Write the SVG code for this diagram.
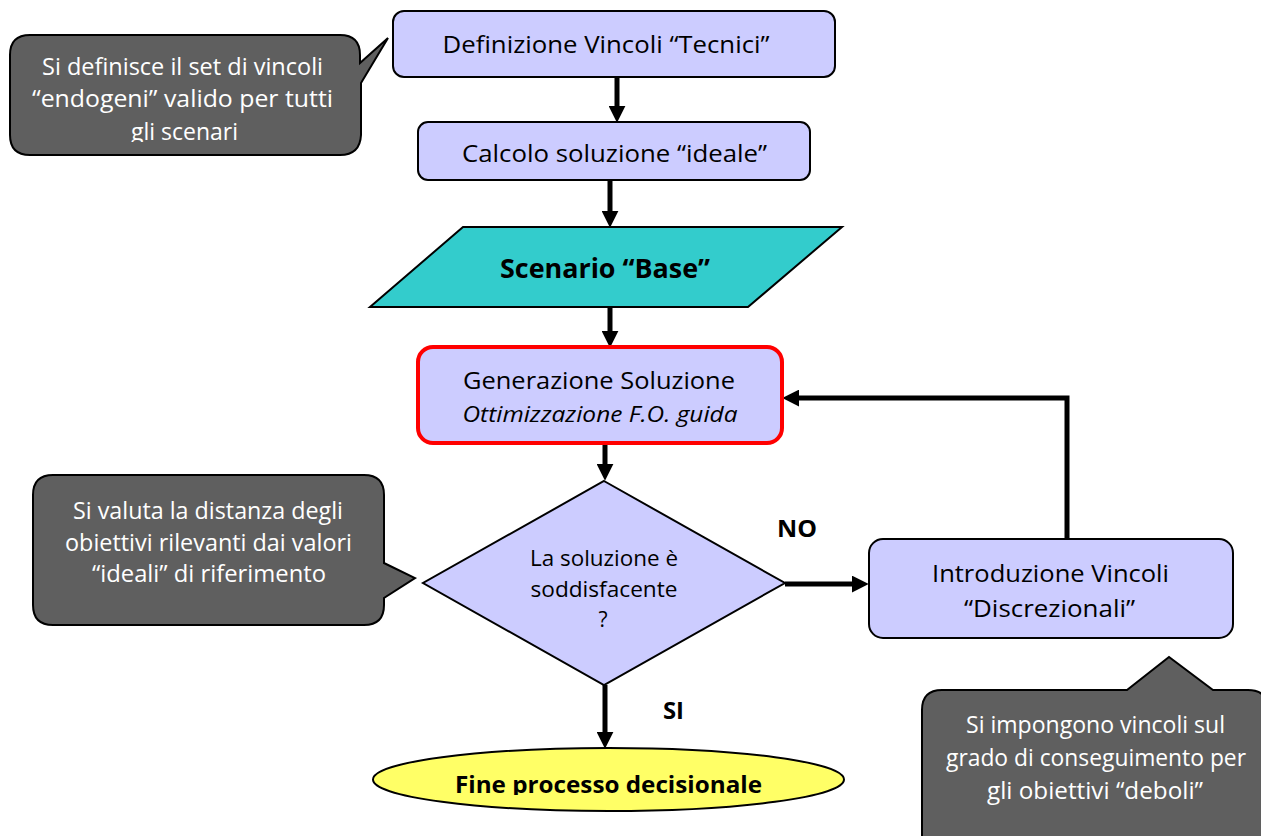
<svg xmlns="http://www.w3.org/2000/svg" width="1261" height="836" viewBox="0 0 1261 836">
<style>
.box{fill:#CCCCFF;stroke:#000;stroke-width:2}
.call{fill:#5F5F5F;stroke:#000;stroke-width:2}
.t{font-family:"Open Sans","Liberation Sans",sans-serif;font-size:24px;fill:#000;text-anchor:middle}
.w{fill:#fff}
.b{font-weight:bold}
.i{font-style:italic;font-size:21px}
.s{font-size:21px}
.big{font-size:26px}
.conn{fill:none;stroke:#000;stroke-width:5;marker-end:url(#ah)}
</style>
<defs>
<marker id="ah" viewBox="0 0 16 16" markerWidth="17" markerHeight="17" markerUnits="userSpaceOnUse" refX="4" refY="8" orient="auto">
<path d="M0,0 L16,8 L0,16 Z" fill="#000"/>
</marker>
<clipPath id="clip1"><rect x="0" y="0" width="400" height="142"/></clipPath>
<clipPath id="clip2"><rect x="300" y="700" width="600" height="95"/></clipPath>
</defs>
<rect width="1261" height="836" fill="#fff"/>

<g id="connectors">
<path class="conn" d="M617,77 V110"/>
<path class="conn" d="M610,180 V215"/>
<path class="conn" d="M610,307 V335"/>
<path class="conn" d="M605,444 V468"/>
<path class="conn" d="M605,685 V736"/>
<path class="conn" d="M785,584 H856"/>
<path class="conn" d="M1067,539 V398 H795"/>
</g>

<g id="callout1">
<path class="call" d="M30,35 H340 Q360,35 360,55 V63 L388,38 L361,83 V135 Q360,155 340,155 H30 Q10,155 10,135 V55 Q10,35 30,35 Z"/>
<text class="t w" x="182.5" y="75" textLength="281" lengthAdjust="spacingAndGlyphs">Si definisce il set di vincoli</text>
<text class="t w" x="182.5" y="107" textLength="301" lengthAdjust="spacingAndGlyphs">“endogeni” valido per tutti</text>
<text class="t w" x="184.5" y="140" textLength="107" lengthAdjust="spacingAndGlyphs" clip-path="url(#clip1)">gli scenari</text>
</g>

<g id="n_definizione">
<rect class="box" x="393" y="11" width="442" height="66" rx="11"/>
<text class="t" x="606" y="53" textLength="327" lengthAdjust="spacingAndGlyphs">Definizione Vincoli “Tecnici”</text>
</g>

<g id="n_calcolo">
<rect class="box" x="418" y="122" width="392" height="58" rx="10"/>
<text class="t" x="614.5" y="162" textLength="305" lengthAdjust="spacingAndGlyphs">Calcolo soluzione “ideale”</text>
</g>

<g id="n_scenario">
<polygon points="463,227 842,227 748,307 370,307" fill="#33CCCC" stroke="#000" stroke-width="2"/>
<text class="t b big" x="605" y="278" textLength="210" lengthAdjust="spacingAndGlyphs">Scenario “Base”</text>
</g>

<g id="n_generazione">
<rect x="418" y="347" width="364" height="96" rx="15" fill="#CCCCFF" stroke="#FF0000" stroke-width="4"/>
<text class="t" x="599" y="389" textLength="272" lengthAdjust="spacingAndGlyphs">Generazione Soluzione</text>
<text class="t i" x="600" y="422" textLength="275" lengthAdjust="spacingAndGlyphs">Ottimizzazione F.O. guida</text>
</g>

<g id="callout2">
<path class="call" d="M53,475 H364 Q384,475 384,495 V563 L415,578 L384,598 V605 Q384,625 364,625 H53 Q33,625 33,605 V495 Q33,475 53,475 Z"/>
<text class="t w" x="208" y="519" textLength="270" lengthAdjust="spacingAndGlyphs">Si valuta la distanza degli</text>
<text class="t w" x="208.5" y="551" textLength="287" lengthAdjust="spacingAndGlyphs">obiettivi rilevanti dai valori</text>
<text class="t w" x="209" y="582" textLength="234" lengthAdjust="spacingAndGlyphs">“ideali” di riferimento</text>
</g>

<g id="n_decisione">
<polygon points="604,481 785,583 604,685 423,583" fill="#CCCCFF" stroke="#000" stroke-width="2"/>
<text class="t s" x="604" y="566" textLength="148" lengthAdjust="spacingAndGlyphs">La soluzione è</text>
<text class="t s" x="604" y="597" textLength="147" lengthAdjust="spacingAndGlyphs">soddisfacente</text>
<text class="t s" x="603" y="627">?</text>
</g>

<g id="labels">
<text class="t b" x="797" y="537" textLength="40" lengthAdjust="spacingAndGlyphs">NO</text>
<text class="t b" x="673.5" y="719" textLength="21" lengthAdjust="spacingAndGlyphs">SI</text>
</g>

<g id="n_introduzione">
<rect class="box" x="869" y="539" width="364" height="99" rx="14"/>
<text class="t" x="1050.5" y="582" textLength="237" lengthAdjust="spacingAndGlyphs">Introduzione Vincoli</text>
<text class="t" x="1049.5" y="617" textLength="171" lengthAdjust="spacingAndGlyphs">“Discrezionali”</text>
</g>

<g id="n_fine">
<ellipse cx="608.5" cy="779.5" rx="235.5" ry="31.5" fill="#FFFF66" stroke="#000" stroke-width="2"/>
<text class="t b" x="608.5" y="793" textLength="307" lengthAdjust="spacingAndGlyphs" clip-path="url(#clip2)">Fine processo decisionale</text>
</g>

<g id="callout3">
<path class="call" d="M942,690 H1127 L1169,657 L1213,690 H1248 Q1268,690 1268,710 V860 H922 V710 Q922,690 942,690 Z"/>
<text class="t w" x="1095.5" y="733" textLength="259" lengthAdjust="spacingAndGlyphs">Si impongono vincoli sul</text>
<text class="t w" x="1096" y="766" textLength="300" lengthAdjust="spacingAndGlyphs">grado di conseguimento per</text>
<text class="t w" x="1095" y="799" textLength="216" lengthAdjust="spacingAndGlyphs">gli obiettivi “deboli”</text>
</g>
</svg>
